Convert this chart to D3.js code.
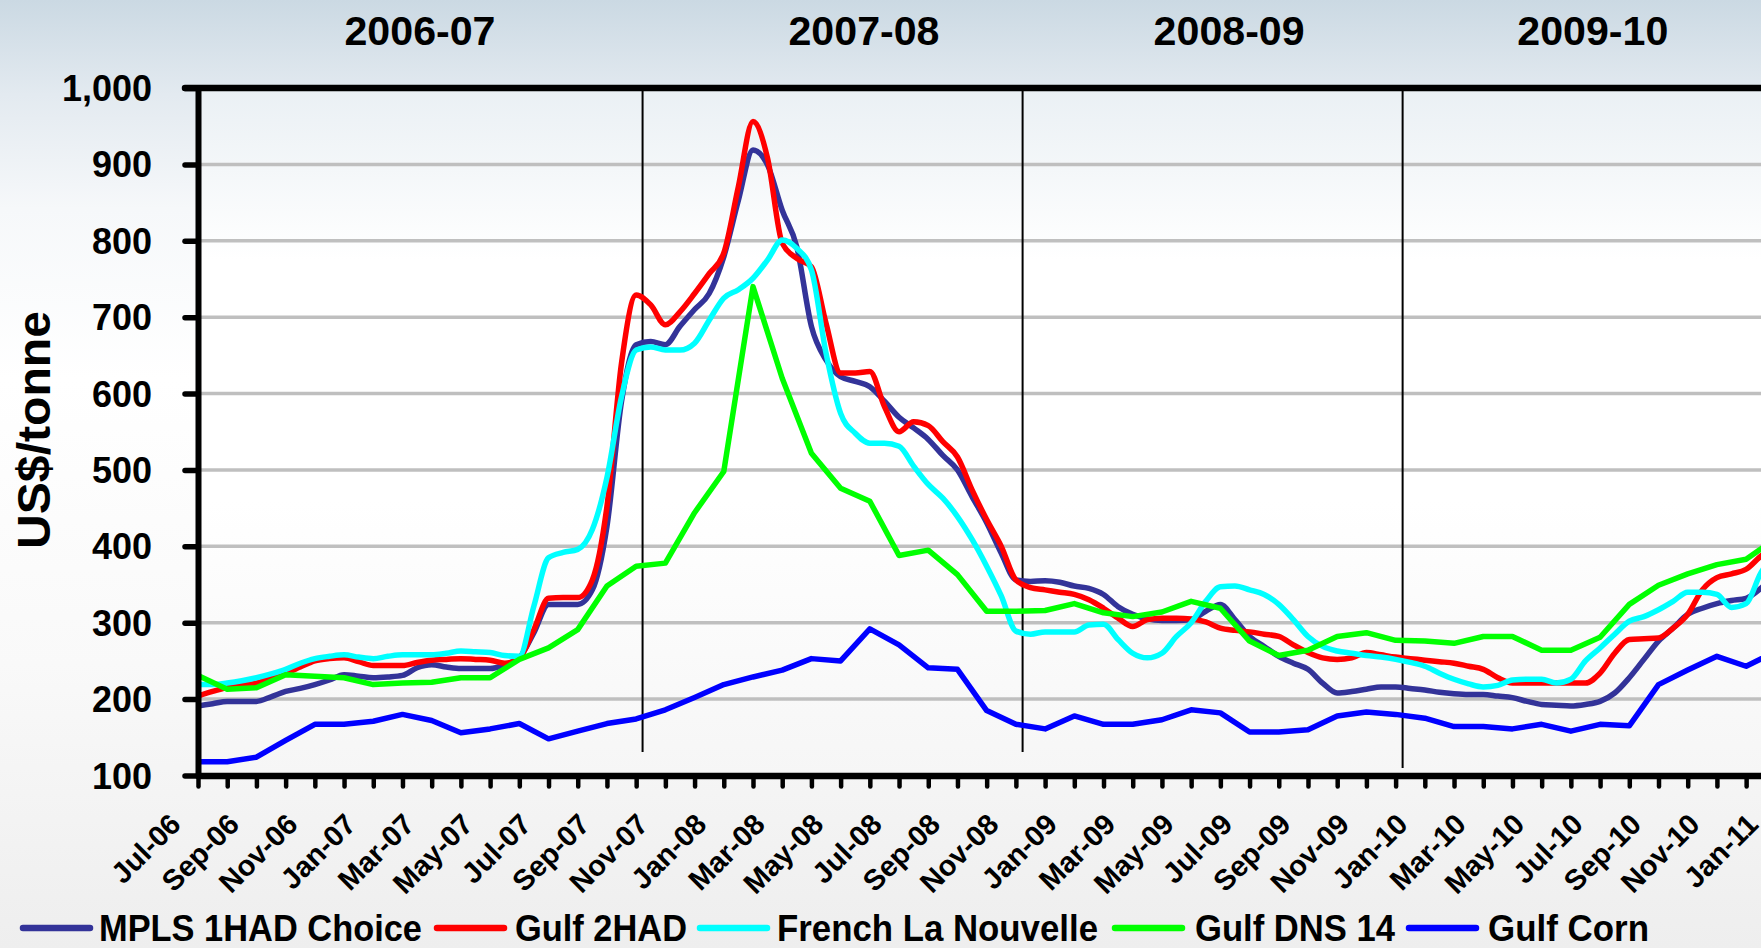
<!DOCTYPE html>
<html>
<head>
<meta charset="utf-8">
<script src="https://d3js.org/d3.v7.min.js"></script>
<style>
  html, body { margin: 0; padding: 0; overflow: hidden; }
  svg { display: block; font-family: "Liberation Sans", Arial, sans-serif; }
</style>
</head>
<body>
<script>

var W = 1761, H = 948;

// month categories (Jul-06 .. Jan-11)
var monthLabels = ["Jul-06","Aug-06","Sep-06","Oct-06","Nov-06","Dec-06",
  "Jan-07","Feb-07","Mar-07","Apr-07","May-07","Jun-07","Jul-07","Aug-07","Sep-07","Oct-07","Nov-07","Dec-07",
  "Jan-08","Feb-08","Mar-08","Apr-08","May-08","Jun-08","Jul-08","Aug-08","Sep-08","Oct-08","Nov-08","Dec-08",
  "Jan-09","Feb-09","Mar-09","Apr-09","May-09","Jun-09","Jul-09","Aug-09","Sep-09","Oct-09","Nov-09","Dec-09",
  "Jan-10","Feb-10","Mar-10","Apr-10","May-10","Jun-10","Jul-10","Aug-10","Sep-10","Oct-10","Nov-10","Dec-10",
  "Jan-11"];

// wheat prices are read twice a month, the others once a month
var halfMonths = d3.range(0, 54.5, 0.5);

var mpls = [191,194,197,197,197,203,210,214,219,225,
  232,230,228,229,231,241,245,242,240,240,
  240,245,254,287,324,324,324,343,426,590,
  664,668,664,688,710,731,779,853,919,899,
  840,792,688,644,622,616,609,590,569,555,
  540,519,500,465,431,391,356,354,355,353,
  348,345,337,321,311,305,303,303,304,315,
  324,304,282,269,256,247,239,221,208,210,
  213,216,216,214,212,209,207,206,206,204,
  202,197,193,192,191,193,197,208,228,252,
  276,293,311,319,325,329,332,345,365];

var gulf2had = [204,210,215,218,221,228,234,242,250,253,
  254,249,244,244,244,248,251,252,253,252,
  251,247,254,291,332,333,333,356,452,640,
  729,716,690,707,731,757,784,871,956,908,
  797,777,766,692,627,627,629,583,550,563,
  558,537,517,474,435,400,356,346,343,340,
  337,330,319,306,295,304,306,306,305,301,
  293,290,288,285,282,271,261,254,252,254,
  261,258,255,253,251,249,247,243,239,228,
  221,221,221,221,221,221,234,260,278,279,
  280,293,311,343,359,364,370,387,400];

var french = [219,219,221,224,228,233,239,247,253,256,
  258,255,253,256,258,258,258,260,263,262,
  261,257,256,322,385,392,396,422,490,596,
  657,661,657,657,666,696,725,736,751,775,
  801,790,762,653,574,548,535,535,531,505,
  481,463,439,409,374,335,289,285,288,288,
  288,297,298,278,260,254,260,282,300,328,
  347,348,343,337,324,304,282,269,263,260,
  257,255,252,248,243,234,226,220,216,218,
  225,226,226,221,226,250,267,285,302,308,
  317,328,340,340,337,320,325,365,390];

var dns14 = [231,213,215,232,230,228,219,221,222,228,
  228,252,267,291,348,374,378,444,498,740,
  620,522,476,459,388,395,363,315,315,316,
  325,313,308,314,328,319,276,257,264,282,
  287,277,276,273,282,282,264,264,281,324,
  349,364,376,383,410];

var corn = [118,118,124,146,167,167,171,180,172,156,
  161,168,148,158,168,174,186,202,219,229,
  238,253,250,292,271,241,239,185,167,161,
  178,167,167,173,186,182,157,157,160,178,
  183,180,175,164,164,161,167,158,167,165,
  219,238,256,243,262];

var yTicks = [100,200,300,400,500,600,700,800,900,1000];
var seasonLabels = ["2006-07","2007-08","2008-09","2009-10"];
var seasonLabelAt = [7.6, 22.8, 35.3, 47.75];   // in months from Jul-06
var seasonBreaks = [15.22, 28.23, 41.24];
var seasonBreakEnd = [752, 752, 768];

var series = [
  {name: "MPLS 1HAD Choice",   color: "#333399", xs: halfMonths, vals: mpls,     smooth: true},
  {name: "Gulf 2HAD",          color: "#ff0000", xs: halfMonths, vals: gulf2had, smooth: true},
  {name: "French La Nouvelle", color: "#00ffff", xs: halfMonths, vals: french,   smooth: true},
  {name: "Gulf DNS 14",        color: "#00ff00", xs: null,       vals: dns14,    smooth: false},
  {name: "Gulf Corn",          color: "#0000ff", xs: null,       vals: corn,     smooth: false}
];

var x = d3.scaleLinear().domain([0, 54]).range([198, 198 + 54 * 29.21]);
var y = d3.scaleLinear().domain([100, 1000]).range([775.5, 88]);

var svg = d3.select("body").append("svg")
  .attr("width", W).attr("height", H);

var defs = svg.append("defs");
var bg = defs.append("linearGradient").attr("id", "bg")
  .attr("x1", 0).attr("y1", 0).attr("x2", 0).attr("y2", 1);
[[0, "#cbd9e3"], [0.1, "#e3eaf0"], [0.22, "#f6f8fa"], [0.4, "#ffffff"],
 [0.7, "#f9f9f9"], [1, "#eeeeee"]].forEach(function(s) {
  bg.append("stop").attr("offset", s[0]).attr("stop-color", s[1]);
});
svg.append("rect").attr("width", W).attr("height", H).attr("fill", "url(#bg)");

// plot area, a touch whiter than the slide
var pa = defs.append("linearGradient").attr("id", "pa")
  .attr("x1", 0).attr("y1", 0).attr("x2", 0).attr("y2", 1);
[[0, "#eaf0f4"], [0.25, "#ffffff"], [0.6, "#ffffff"], [1, "#f6f6f6"]].forEach(function(s) {
  pa.append("stop").attr("offset", s[0]).attr("stop-color", s[1]);
});
svg.append("rect").attr("x", x(0)).attr("y", y(1000))
  .attr("width", W - x(0)).attr("height", y(100) - y(1000)).attr("fill", "url(#pa)");

// gridlines
svg.append("g").selectAll("line").data(yTicks.slice(1, -1)).enter().append("line")
  .attr("x1", x(0)).attr("x2", W + 20)
  .attr("y1", function(d) { return y(d); }).attr("y2", function(d) { return y(d); })
  .attr("stroke", "#bfbfbf").attr("stroke-width", 3.5);

// season separators
svg.append("g").selectAll("line").data(seasonBreaks).enter().append("line")
  .attr("x1", function(d) { return x(d); }).attr("x2", function(d) { return x(d); })
  .attr("y1", y(1000)).attr("y2", function(d, i) { return seasonBreakEnd[i]; })
  .attr("stroke", "#000").attr("stroke-width", 2);

// series
svg.append("clipPath").attr("id", "clip").append("rect")
  .attr("x", x(0)).attr("y", y(1000) - 10).attr("width", W).attr("height", y(100) - y(1000) + 10);

var plot = svg.append("g").attr("clip-path", "url(#clip)");
series.forEach(function(s) {
  var pts = s.vals.map(function(v, i) { return [s.xs ? s.xs[i] : i, v]; });
  var line = d3.line()
    .x(function(d) { return x(d[0]); })
    .y(function(d) { return y(d[1]); })
    .curve(s.smooth ? d3.curveMonotoneX : d3.curveLinear);
  plot.append("path").datum(pts)
    .attr("d", line)
    .attr("fill", "none")
    .attr("stroke", s.color)
    .attr("stroke-width", 5.5)
    .attr("stroke-linejoin", "round")
    .attr("stroke-linecap", "round");
});

// y axis
var yAxis = svg.append("g").attr("transform", "translate(" + x(0) + ",0)")
  .call(d3.axisLeft(y).tickValues(yTicks).tickSize(13).tickSizeOuter(0).tickPadding(0)
    .tickFormat(d3.format(",")));
yAxis.select(".domain").attr("stroke-width", 6).attr("stroke-linecap", "round");
yAxis.selectAll(".tick line").attr("stroke-width", 5.5).attr("stroke-linecap", "round");
yAxis.selectAll(".tick text")
  .attr("x", 152 - x(0)).attr("dy", "0.35em")
  .attr("font-size", 36).attr("font-weight", "bold").attr("fill", "#000")
  .attr("font-family", "'Liberation Sans', Arial, sans-serif");

// top border
svg.append("line").attr("x1", x(0) - 13).attr("x2", W + 20)
  .attr("y1", y(1000)).attr("y2", y(1000))
  .attr("stroke", "#000").attr("stroke-width", 6.5).attr("stroke-linecap", "round");

// x axis
var xAxis = svg.append("g").attr("transform", "translate(0," + y(100) + ")")
  .call(d3.axisBottom(x).tickValues(d3.range(0, 55)).tickSize(11).tickSizeOuter(0)
    .tickFormat(function(d) { return d % 2 === 0 ? monthLabels[d] : ""; }));
xAxis.select(".domain").attr("stroke-width", 6.5).attr("stroke-linecap", "round");
xAxis.selectAll(".tick line").attr("stroke-width", 4.5).attr("stroke-linecap", "round");
xAxis.selectAll(".tick text")
  .attr("y", 0).attr("dy", 0)
  .attr("text-anchor", "end")
  .attr("transform", "translate(-16," + (826 - y(100)) + ") rotate(-45)")
  .attr("font-size", 29).attr("font-weight", "bold").attr("fill", "#000")
  .attr("font-family", "'Liberation Sans', Arial, sans-serif");

// y title
svg.append("text")
  .attr("transform", "translate(50,430) rotate(-90)")
  .attr("text-anchor", "middle")
  .attr("font-size", 46).attr("font-weight", "bold")
  .attr("textLength", 238).attr("lengthAdjust", "spacingAndGlyphs")
  .text("US$/tonne");

// season titles
svg.append("g").selectAll("text").data(seasonLabels).enter().append("text")
  .attr("x", function(d, i) { return x(seasonLabelAt[i]); })
  .attr("y", 45)
  .attr("text-anchor", "middle")
  .attr("font-family", "'Liberation Sans Narrow', 'Arial Narrow', 'Liberation Sans', sans-serif")
  .attr("font-size", 40).attr("font-weight", "bold")
  .attr("textLength", 151).attr("lengthAdjust", "spacingAndGlyphs")
  .text(function(d) { return d; });

// legend
var legendSwatch = [20, 434, 697, 1112, 1406];
var legendText = [[99, 323], [515, 172], [777, 321], [1195, 200], [1488, 161]];
var lg = svg.append("g");
series.forEach(function(s, i) {
  lg.append("line")
    .attr("x1", legendSwatch[i] + 3).attr("x2", legendSwatch[i] + 70)
    .attr("y1", 928).attr("y2", 928)
    .attr("stroke", s.color).attr("stroke-width", 6.5).attr("stroke-linecap", "round");
  lg.append("text")
    .attr("x", legendText[i][0]).attr("y", 941)
    .attr("font-family", "'Liberation Sans Narrow', 'Arial Narrow', 'Liberation Sans', sans-serif")
    .attr("font-size", 36).attr("font-weight", "bold")
    .attr("textLength", legendText[i][1]).attr("lengthAdjust", "spacingAndGlyphs")
    .text(s.name);
});

</script>
</body>
</html>
